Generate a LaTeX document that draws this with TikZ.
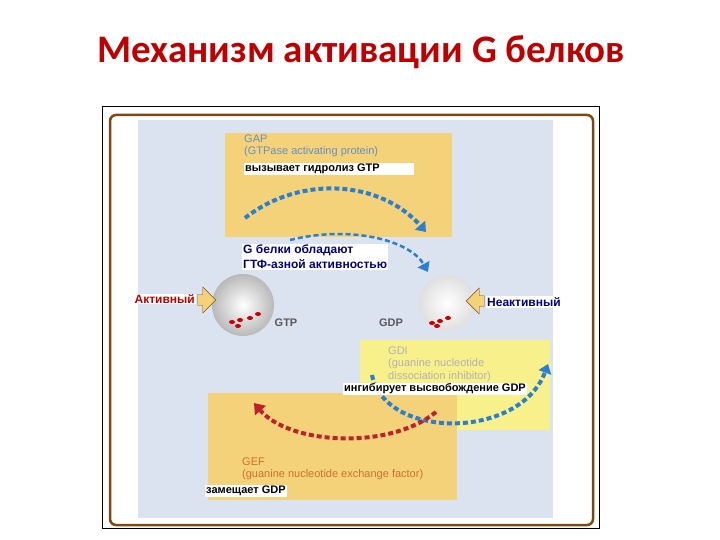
\documentclass[tikz,border=0pt]{standalone}
\usepackage{fontspec}
\setmainfont{Liberation Sans}
\newfontfamily\titlefont{Carlito}
\usetikzlibrary{arrows.meta,shapes.arrows}
\definecolor{ttl}{HTML}{C00000}
\definecolor{bgb}{HTML}{DCE3F0}
\definecolor{ybox}{HTML}{F3D27A}
\definecolor{ybox2}{HTML}{F8F08A}
\definecolor{brn}{HTML}{7A4A10}
\definecolor{arcb}{HTML}{2A7FD0}
\definecolor{arcr}{HTML}{C0202A}
\definecolor{gapt}{HTML}{6A8FC0}
\definecolor{geft}{HTML}{D07030}
\tikzset{
 lbl/.style={fill=white,inner sep=1pt,font=\bfseries\fontsize{11}{13}\selectfont,anchor=west,align=left},
 small/.style={font=\fontsize{11}{12.5}\selectfont,anchor=west,align=left,inner sep=0pt},
 bluearc/.style={line width=4pt,draw=arcb,dash pattern=on 5pt off 3pt,-{Triangle[length=9pt,width=13pt]}},
 redarc/.style={line width=4pt,draw=arcr,dash pattern=on 5pt off 3pt,-{Triangle[length=10pt,width=14pt]}},
 sph/.style={circle,inner color=white,outer color=gray!55},
 yarrow/.style={single arrow,fill=ybox,draw=brn,minimum height=18pt,minimum width=26pt,single arrow head extend=3pt,inner sep=2pt}
}
\begin{document}
\begin{tikzpicture}[x=1pt,y=-1pt]
\useasboundingbox (0,0) rectangle (720,540);
\node[text=ttl,font=\titlefont\bfseries\fontsize{39}{44}\selectfont] (title) at (361,52) {Механизм активации G белков};
\draw[line width=0.7pt] (102,106) rectangle (599,528);
\draw[brn,line width=2.5pt,rounded corners=6pt] (110,115) rectangle (593,525);
\fill[bgb] (138,120) rectangle (553,518);
% boxes
\fill[ybox] (225,133) rectangle (452,237);
\fill[ybox2] (360,340) rectangle (550,430);
\fill[ybox] (208,393) rectangle (457,500);
% GAP
\node[small,text=gapt] (gap) at (244,146) {GAP\\(GTPase activating protein)};
\node[lbl] (gapl) at (244,169) {вызывает гидролиз GTP\hspace{3em}};
% spheres
\node[sph,minimum size=62pt] (s1) at (243,305) {};
\node[sph,outer color=gray!25,minimum size=56pt] (s2) at (447,303) {};
\foreach \p in {(232,322),(240,320),(250,318),(258,314),(238,326)} \fill[red!80!black] \p ellipse (3pt and 2pt);
\foreach \p in {(432,323),(440,321),(448,318),(437,326)} \fill[red!80!black] \p ellipse (3pt and 2pt);
\node[font=\bfseries\fontsize{11}{12}\selectfont,text=black!65] (gtp) at (286,323) {GTP};
\node[font=\bfseries\fontsize{11}{12}\selectfont,text=black!65] (gdp) at (391,323) {GDP};
% arcs
\coordinate (a1s) at (245,218); \coordinate (a1e) at (426,232);
\draw[bluearc] (a1s) .. controls (300,175) and (380,180) .. (a1e);
\coordinate (a2s) at (290,240); \coordinate (a2e) at (428,272);
\draw[bluearc,line width=2.5pt] (a2s) .. controls (350,225) and (410,240) .. (a2e);
\node[lbl,text=blue!50!black,font=\bfseries\fontsize{12}{15}\selectfont] (gbl) at (242,257) {G белки обладают\\ГТФ-азной активностью};
% side arrows
\node[yarrow] (ya) at (204,300) {};
\node[lbl,text=ttl,fill=white,font=\bfseries\fontsize{12}{13}\selectfont,anchor=east] (akt) at (196,299) {Активный};
\node[yarrow,shape border rotate=180] (yi) at (478,301) {};
\node[lbl,text=blue!50!black,font=\bfseries\fontsize{12}{13}\selectfont] (neakt) at (486,302) {Неактивный};
% GDI
\node[small,text=white!40!gray] (gdi) at (388,364) {GDI\\(guanine nucleotide\\dissociation inhibitor)};
\coordinate (b1s) at (372,375); \coordinate (b1e) at (548,364);
\draw[bluearc] (b1s) .. controls (385,440) and (520,440) .. (b1e);
\coordinate (r1s) at (436,412); \coordinate (r1e) at (254,403);
\draw[redarc] (r1s) .. controls (390,450) and (290,445) .. (r1e);
\node[lbl] (gdil) at (343,389) {ингибирует высвобождение GDP};
% GEF
\node[small,text=geft] (gef) at (242,469) {GEF\\(guanine nucleotide exchange factor)};
\node[lbl] (gefl) at (205,491) {замещает GDP};
\end{tikzpicture}
\end{document}
